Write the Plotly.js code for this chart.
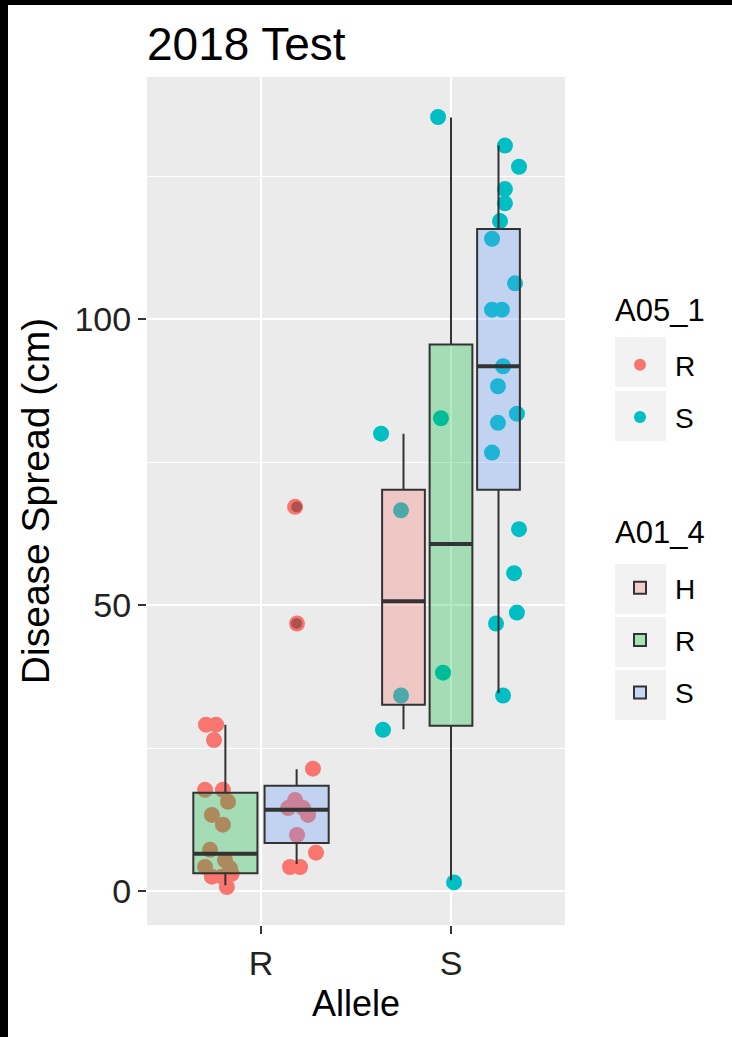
<!DOCTYPE html>
<html><head><meta charset="utf-8">
<script src="https://cdn.plot.ly/plotly-3.0.1.min.js"></script>
<style>
html,body{margin:0;padding:0;background:#000;width:732px;height:1037px;overflow:hidden}
#chart{position:absolute;left:8px;top:5px;width:724px;height:1032px;background:#fff}
</style></head><body><div id="chart"></div>
<script>
// ---- data ----
const alleles = ['R', 'S'];
const genoLevels = ['H', 'R', 'S'];     // A01_4
const a05Levels = ['R', 'S'];           // A05_1

// box summaries (one per Allele x A01_4 combination)
const boxAllele = ['R', 'R', 'S', 'S', 'S'];
const boxGeno   = ['R', 'S', 'H', 'R', 'S'];
const boxLower  = [1.0, 4.7, 28.3, 1.9, 34.6];
const boxQ1     = [3.1, 8.4, 32.6, 28.9, 70.2];
const boxMedian = [6.5, 14.2, 50.7, 60.7, 91.8];
const boxQ3     = [17.2, 18.4, 70.2, 95.6, 115.8];
const boxUpper  = [29.1, 21.3, 80.0, 135.3, 130.4];
const outlierBoxIndex = [1, 1];
const outlierValue = [67.2, 46.8];

// individual observations
const ptAllele = [
  'R','R','R','R','R','R','R','R','R','R','R','R','R','R','R','R',
  'R','R','R','R','R','R','R','R','R','R','R',
  'S','S','S','S',
  'S','S','S','S',
  'S','S','S','S','S','S','S','S','S','S','S','S','S','S','S','S','S','S','S'];
const ptGeno = [
  'R','R','R','R','R','R','R','R','R','R','R','R','R','R','R','R',
  'S','S','S','S','S','S','S','S','S','S','S',
  'H','H','H','H',
  'R','R','R','R',
  'S','S','S','S','S','S','S','S','S','S','S','S','S','S','S','S','S','S','S'];
const ptA05 = [
  'R','R','R','R','R','R','R','R','R','R','R','R','R','R','R','R',
  'R','R','R','R','R','R','R','R','R','R','R',
  'S','S','S','S',
  'S','S','S','S',
  'S','S','S','S','S','S','S','S','S','S','S','S','S','S','S','S','S','S','S'];
const ptValue = [
  29.1, 29.1, 26.4, 17.7, 17.7, 15.6, 13.3, 11.6, 7.2, 5.4, 4.2, 4.0, 2.5, 2.5, 3.0, 0.7,
  67.2, 46.8, 21.4, 15.9, 14.5, 14.5, 13.3, 9.8, 6.7, 4.2, 4.2,
  80.0, 66.6, 34.2, 28.2,
  135.4, 82.7, 38.2, 1.5,
  130.4, 126.7, 122.8, 120.3, 117.2, 114.1, 106.3, 101.7, 101.7, 91.8, 88.3, 83.5, 81.9, 76.7, 63.3, 55.6, 48.7, 46.8, 34.2];
const ptJitter = [
  -0.102, -0.049, -0.060, -0.107, -0.013, 0.014, -0.071, -0.013, -0.081, -0.002, -0.107, 0.024, -0.071, -0.018, 0.033, 0.008,
  -0.008, 0.002, 0.086, -0.008, -0.045, 0.034, 0.060, 0.002, 0.102, -0.035, 0.018,
  -0.118, -0.013, -0.013, -0.108,
  -0.068, -0.053, -0.042, 0.016,
  0.034, 0.108, 0.034, 0.034, 0.008, -0.034, 0.087, -0.034, 0.018, 0.024, -0.003, 0.097, -0.003, -0.034, 0.108, 0.082, 0.097, -0.013, 0.024];

// ---- styles ----
const a05Colors = {R: '#F8766D', S: '#00BFC4'};
const genoFill = {H: 'rgba(248,118,109,0.3)', R: 'rgba(0,186,56,0.3)', S: 'rgba(97,156,255,0.3)'};
const FONT = 'Liberation Sans, Arial, sans-serif';
const lineCol = '#333333';

// dodge: boxes within each allele share 0.75 of a category
function dodge(allele, geno) {
  const present = genoLevels.filter(g => boxAllele.some((a, i) => a === allele && boxGeno[i] === g));
  const n = present.length, slot = 0.75 / n, k = present.indexOf(geno);
  return {center: alleles.indexOf(allele) + 1 - 0.375 + (k + 0.5) * slot, width: slot * 0.9};
}

const traces = [];
// points (under the boxes)
a05Levels.forEach(lv => {
  const xs = [], ys = [];
  ptValue.forEach((v, i) => {
    if (ptA05[i] !== lv) return;
    xs.push(dodge(ptAllele[i], ptGeno[i]).center + ptJitter[i]);
    ys.push(v);
  });
  traces.push({type: 'scatter', mode: 'markers', x: xs, y: ys, name: lv,
    legend: 'legend', legendgroup: 'a05' + lv,
    marker: {color: a05Colors[lv], size: 16, line: {width: 0}}, xaxis: 'x', yaxis: 'y'});
});
// boxes on overlaid axes so they paint above the points
const shown = {};
boxAllele.forEach((a, i) => {
  const d = dodge(a, boxGeno[i]);
  const g = boxGeno[i];
  traces.push({type: 'box', x: [d.center], q1: [boxQ1[i]], median: [boxMedian[i]], q3: [boxQ3[i]],
    lowerfence: [boxLower[i]], upperfence: [boxUpper[i]], width: d.width,
    name: g, legend: 'legend2', legendgroup: 'geno' + g, legendrank: genoLevels.indexOf(g) + 1,
    showlegend: !shown[g], fillcolor: genoFill[g], line: {color: lineCol, width: 2},
    whiskerwidth: 0, boxpoints: false, hoverinfo: 'skip', xaxis: 'x2', yaxis: 'y2'});
  shown[g] = true;
});
// thick median lines
{
  const xs = [], ys = [];
  boxAllele.forEach((a, i) => {
    const d = dodge(a, boxGeno[i]);
    xs.push(d.center - d.width / 2, d.center + d.width / 2, null);
    ys.push(boxMedian[i], boxMedian[i], null);
  });
  traces.push({type: 'scatter', mode: 'lines', x: xs, y: ys, showlegend: false,
    line: {color: lineCol, width: 4}, hoverinfo: 'skip', xaxis: 'x2', yaxis: 'y2'});
}
// outliers
traces.push({type: 'scatter', mode: 'markers', showlegend: false, hoverinfo: 'skip',
  x: outlierBoxIndex.map(i => dodge(boxAllele[i], boxGeno[i]).center),
  y: outlierValue, marker: {color: 'rgba(0,0,0,0.3)', size: 11}, xaxis: 'x2', yaxis: 'y2'});

// legend key backgrounds (paper coords; div is 724x1032, plot area l=139 t=72 w=418 h=848)
const PL = 139, PW = 418, PT = 72, PH = 848, OX = 8, OY = 5;
const px = v => (v - OX - PL) / PW;
const py = v => 1 - (v - OY - PT) / PH;
const keyRows = [[337, 387], [391, 441], [564, 614], [617, 667], [670, 720]];
const shapes = keyRows.map(r => ({type: 'rect', xref: 'paper', yref: 'paper', layer: 'below',
  x0: px(615), x1: px(666), y0: py(r[1]), y1: py(r[0]), fillcolor: '#F2F2F2', line: {width: 0}}));

const xr = [0.4, 2.6], yr = [-5.95, 142.4];
const legendCommon = {xanchor: 'left', yanchor: 'top', bgcolor: 'rgba(0,0,0,0)',
  font: {size: 28, color: '#000', family: FONT}, tracegroupgap: 13, itemwidth: 60, itemsizing: 'constant'};
const layout = {
  width: 724, height: 1032,
  margin: {l: PL, r: 724 - PL - PW, t: PT, b: 1032 - PT - PH},
  paper_bgcolor: '#ffffff', plot_bgcolor: '#EBEBEB',
  font: {family: FONT, color: '#000'},
  title: {text: '2018 Test', font: {size: 46, color: '#000', family: FONT},
    xref: 'paper', x: 0, xanchor: 'left', yref: 'container', y: 1 - 39 / 1032, yanchor: 'middle'},
  xaxis: {range: xr, tickmode: 'array', tickvals: [1, 2], ticktext: alleles,
    showgrid: true, gridcolor: '#ffffff', gridwidth: 2, zeroline: false, showline: false,
    ticks: 'outside', ticklen: 8, tickwidth: 2, tickcolor: lineCol,
    tickfont: {size: 34, color: '#222', family: FONT},
    title: {text: 'Allele', font: {size: 36, color: '#000', family: FONT}, standoff: 10}},
  yaxis: {range: yr, tickmode: 'linear', tick0: 0, dtick: 50,
    showgrid: true, gridcolor: '#ffffff', gridwidth: 2, zeroline: false, showline: false,
    minor: {tick0: 0, dtick: 25, showgrid: true, gridcolor: '#ffffff', gridwidth: 1, ticks: ''},
    ticks: 'outside', ticklen: 8, tickwidth: 2, tickcolor: lineCol,
    tickfont: {size: 34, color: '#222', family: FONT},
    title: {text: 'Disease Spread (cm)', font: {size: 39, color: '#000', family: FONT}, standoff: 12}},
  xaxis2: {range: xr, overlaying: 'x', visible: false},
  yaxis2: {range: yr, overlaying: 'y', visible: false},
  legend: Object.assign({x: px(605), y: py(340)}, legendCommon),
  legend2: Object.assign({x: px(605), y: py(563)}, legendCommon),
  annotations: [
    {text: 'A05_1', xref: 'paper', yref: 'paper', x: px(613), y: py(310), xanchor: 'left', yanchor: 'middle',
      showarrow: false, font: {size: 31, color: '#000', family: FONT}},
    {text: 'A01_4', xref: 'paper', yref: 'paper', x: px(613), y: py(532), xanchor: 'left', yanchor: 'middle',
      showarrow: false, font: {size: 31, color: '#000', family: FONT}}
  ],
  shapes: shapes,
  showlegend: true
};
Plotly.newPlot('chart', traces, layout, {displayModeBar: false, staticPlot: true});
</script></body></html>
